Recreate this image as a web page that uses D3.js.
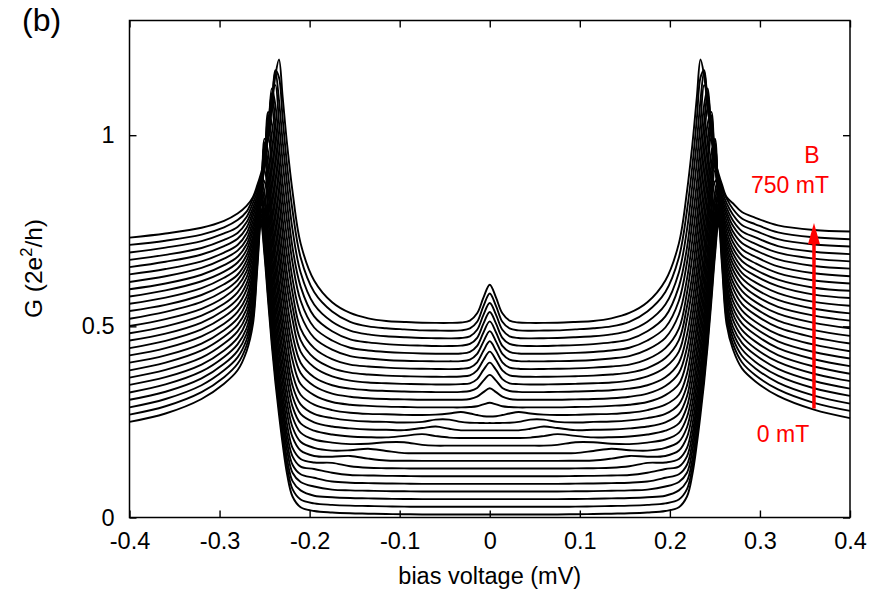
<!DOCTYPE html>
<html>
<head>
<meta charset="utf-8">
<script src="https://cdn.jsdelivr.net/npm/d3@7"></script>
<style>
  html, body { margin: 0; padding: 0; background: #fff; }
  svg { display: block; }
</style>
</head>
<body>
<script>
// ---------------- data ----------------
// bias voltage grid (mV)
const bias = [-0.40,-0.36,-0.32,-0.295,-0.28,-0.27,-0.263,-0.258,-0.254,-0.25,-0.246,-0.242,-0.238,-0.234,-0.23,-0.225,-0.219,-0.21,-0.195,-0.175,-0.155,-0.135,-0.115,-0.095,-0.075,-0.06,-0.045,-0.032,-0.022,-0.014,-0.007,0,
  0.007,0.014,0.022,0.032,0.045,0.06,0.075,0.095,0.115,0.135,0.155,0.175,0.195,0.21,0.219,0.225,0.23,0.234,0.238,0.242,0.246,0.25,0.254,0.258,0.263,0.27,0.28,0.295,0.32,0.36,0.40];

// magnetic field of each trace (mT) and vertical offset applied for clarity (2e^2/h)
const fields  = [0,30,60,90,120,150,180,210,240,270,300,330,360,390,420,450,480,510,540,570,600,630,660,690,720,750];
const offsets = [0,0.02,0.04,0.06,0.08,0.10,0.12,0.14,0.16,0.18,0.20,0.22,0.24,0.26,0.28,0.30,0.32,0.34,0.36,0.38,0.40,0.42,0.44,0.46,0.48,0.50];

// conductance traces G (2e^2/h), one per field
const g0   = [.250,.272,.310,.350,.385,.435,.505,.655,.772,.683,.564,.451,.353,.269,.193,.113,.055,.027,.017,.013,.011,.010,.009,.0085,.008,.008,.008,.008,.008,.008,.008,.008,
  .008,.008,.008,.008,.008,.008,.008,.0085,.009,.010,.011,.013,.017,.027,.055,.113,.193,.269,.353,.451,.564,.683,.772,.655,.505,.440,.390,.356,.318,.282,.260];
const g30  = [.249,.271,.308,.347,.382,.430,.500,.648,.764,.676,.558,.446,.349,.266,.191,.112,.054,.027,.017,.013,.011,.010,.009,.0085,.008,.008,.008,.008,.008,.008,.008,.008,
  .008,.008,.008,.008,.008,.008,.008,.0085,.009,.010,.011,.013,.017,.027,.054,.112,.191,.266,.349,.446,.558,.676,.764,.648,.500,.434,.386,.352,.315,.280,.259];
const g60  = [.248,.270,.306,.345,.379,.425,.495,.643,.757,.670,.553,.442,.346,.264,.190,.112,.055,.031,.017,.013,.011,.010,.009,.0085,.008,.008,.008,.008,.008,.008,.008,.008,
  .008,.008,.008,.008,.008,.008,.008,.0085,.009,.010,.011,.013,.017,.031,.055,.112,.190,.264,.346,.442,.553,.670,.757,.643,.495,.429,.383,.350,.313,.279,.258];
const g90  = [.248,.269,.304,.342,.376,.420,.490,.630,.750,.671,.556,.445,.349,.267,.193,.115,.057,.033,.021,.013,.011,.010,.009,.0085,.008,.008,.008,.008,.008,.008,.008,.008,
  .008,.008,.008,.008,.008,.008,.008,.0085,.009,.010,.011,.013,.021,.033,.057,.115,.193,.267,.349,.445,.556,.671,.750,.630,.490,.424,.380,.347,.311,.278,.258];
const g120 = [.247,.268,.302,.340,.373,.415,.487,.614,.747,.668,.557,.445,.350,.268,.197,.116,.058,.033,.024,.014,.011,.010,.009,.0085,.008,.008,.008,.008,.008,.008,.008,.008,
  .008,.008,.008,.008,.008,.008,.008,.0085,.009,.010,.011,.014,.024,.033,.058,.116,.197,.268,.350,.445,.557,.668,.747,.614,.487,.419,.377,.345,.309,.277,.257];
const g150 = [.247,.267,.300,.337,.370,.413,.484,.599,.745,.673,.560,.449,.355,.271,.199,.118,.060,.033,.027,.017,.011,.010,.009,.0085,.008,.008,.008,.008,.008,.008,.008,.008,
  .008,.008,.008,.008,.008,.008,.008,.0085,.009,.010,.011,.017,.027,.033,.060,.118,.199,.271,.355,.449,.560,.673,.745,.599,.484,.417,.374,.342,.307,.276,.257];
const g180 = [.246,.266,.298,.335,.367,.409,.479,.590,.737,.676,.565,.455,.359,.276,.204,.123,.062,.033,.024,.023,.014,.010,.009,.0085,.008,.008,.008,.008,.008,.008,.008,.008,
  .008,.008,.008,.008,.008,.008,.008,.0085,.009,.010,.014,.023,.024,.033,.062,.123,.204,.276,.359,.455,.565,.676,.737,.590,.479,.413,.371,.340,.305,.275,.256];
const g210 = [.245,.265,.297,.333,.364,.405,.472,.571,.733,.684,.577,.466,.368,.286,.212,.132,.070,.035,.021,.019,.021,.014,.009,.0085,.008,.008,.008,.008,.008,.008,.008,.008,
  .008,.008,.008,.008,.008,.008,.008,.0085,.009,.014,.021,.019,.021,.035,.070,.132,.212,.286,.368,.466,.577,.684,.733,.571,.472,.409,.368,.338,.303,.274,.256];
const g240 = [.245,.264,.295,.330,.361,.402,.468,.553,.728,.690,.586,.476,.378,.293,.220,.139,.076,.038,.022,.015,.016,.020,.014,.0085,.008,.008,.008,.008,.008,.008,.008,.008,
  .008,.008,.008,.008,.008,.008,.008,.0085,.014,.020,.016,.015,.022,.038,.076,.139,.220,.293,.378,.476,.586,.690,.728,.553,.468,.406,.365,.335,.301,.273,.256];
const g270 = [.244,.263,.294,.327,.358,.398,.461,.539,.705,.698,.602,.490,.391,.305,.231,.148,.083,.042,.024,.016,.012,.013,.017,.017,.010,.008,.008,.008,.008,.008,.008,.008,
  .008,.008,.008,.008,.008,.008,.010,.017,.017,.013,.012,.016,.024,.042,.083,.148,.231,.305,.391,.490,.602,.698,.705,.539,.461,.402,.362,.332,.299,.272,.255];
const g300 = [.243,.262,.292,.325,.355,.396,.455,.529,.677,.707,.615,.504,.403,.316,.241,.160,.090,.046,.027,.017,.012,.010,.0095,.0135,.018,.013,.009,.008,.008,.008,.008,.008,
  .008,.008,.008,.008,.009,.013,.018,.0135,.0095,.010,.012,.017,.027,.046,.090,.160,.241,.316,.403,.504,.615,.707,.677,.529,.455,.400,.359,.330,.297,.271,.255];
const g330 = [.243,.261,.290,.322,.352,.392,.449,.516,.630,.720,.633,.522,.419,.330,.255,.172,.097,.051,.029,.018,.013,.010,.0095,.0085,.014,.018,.012,.008,.008,.008,.008,.008,
  .008,.008,.008,.008,.012,.018,.014,.0085,.0095,.010,.013,.018,.029,.051,.097,.172,.255,.330,.419,.522,.633,.720,.630,.516,.449,.396,.356,.327,.295,.270,.255];
const g360 = [.242,.260,.288,.319,.349,.388,.444,.507,.604,.724,.647,.537,.432,.344,.265,.183,.105,.056,.031,.020,.014,.011,.010,.0085,.010,.016,.016,.010,.008,.0075,.007,.007,
  .007,.0075,.008,.010,.016,.016,.010,.0085,.010,.011,.014,.020,.031,.056,.105,.183,.265,.344,.432,.537,.647,.724,.604,.507,.444,.392,.353,.324,.293,.269,.255];
const g390 = [.241,.259,.286,.316,.346,.384,.438,.497,.585,.720,.661,.552,.451,.357,.278,.199,.116,.061,.035,.021,.014,.011,.010,.0085,.008,.009,.012,.016,.012,.008,.005,.004,
  .005,.008,.012,.016,.012,.009,.008,.0085,.010,.011,.014,.021,.035,.061,.116,.199,.278,.357,.451,.552,.661,.720,.585,.497,.438,.388,.350,.321,.291,.268,.255];
const g420 = [.240,.258,.284,.313,.341,.378,.430,.485,.552,.711,.675,.574,.473,.381,.297,.212,.132,.069,.040,.022,.015,.012,.010,.009,.008,.008,.008,.008,.009,.011,.016,.020,
  .016,.011,.009,.008,.008,.008,.008,.009,.010,.012,.015,.022,.040,.069,.132,.212,.297,.381,.473,.574,.675,.711,.552,.485,.430,.383,.346,.318,.289,.266,.254];
const g450 = [.240,.256,.282,.310,.335,.372,.423,.475,.539,.675,.693,.599,.494,.398,.314,.227,.144,.078,.044,.024,.016,.012,.010,.009,.008,.008,.008,.008,.010,.016,.028,.038,
  .028,.016,.010,.008,.008,.008,.008,.009,.010,.012,.016,.024,.044,.078,.144,.227,.314,.398,.494,.599,.693,.675,.539,.475,.423,.377,.340,.315,.287,.264,.254];
const g480 = [.239,.255,.280,.307,.331,.366,.415,.464,.521,.622,.710,.625,.518,.420,.332,.243,.158,.085,.047,.026,.017,.013,.011,.0095,.0085,.008,.008,.0085,.011,.019,.038,.053,
  .038,.019,.011,.0085,.008,.008,.0085,.0095,.011,.013,.017,.026,.047,.085,.158,.243,.332,.420,.518,.625,.710,.622,.521,.464,.415,.371,.335,.312,.285,.263,.254];
const g510 = [.238,.254,.278,.303,.327,.360,.409,.456,.508,.593,.712,.650,.544,.443,.355,.262,.178,.094,.053,.029,.018,.013,.011,.0095,.0085,.008,.008,.009,.011,.022,.046,.065,
  .046,.022,.011,.009,.008,.008,.0085,.0095,.011,.013,.018,.029,.053,.094,.178,.262,.355,.443,.544,.650,.712,.593,.508,.456,.409,.365,.331,.308,.282,.261,.253];
const g540 = [.237,.252,.275,.300,.322,.354,.402,.444,.491,.564,.701,.671,.575,.471,.380,.278,.192,.104,.057,.031,.019,.014,.011,.0095,.0085,.008,.008,.009,.012,.025,.052,.074,
  .052,.025,.012,.009,.008,.008,.0085,.0095,.011,.014,.019,.031,.057,.104,.192,.278,.380,.471,.575,.671,.701,.564,.491,.444,.402,.360,.326,.305,.279,.260,.252];
const g570 = [.236,.251,.273,.297,.318,.348,.395,.432,.481,.545,.653,.693,.603,.497,.402,.303,.208,.114,.063,.034,.020,.015,.012,.010,.009,.0085,.008,.009,.012,.026,.056,.081,
  .056,.026,.012,.009,.008,.0085,.009,.010,.012,.015,.020,.034,.063,.114,.208,.303,.402,.497,.603,.693,.653,.545,.481,.432,.395,.354,.322,.302,.277,.259,.251];
const g600 = [.236,.250,.270,.293,.313,.343,.388,.422,.469,.529,.616,.709,.632,.525,.430,.327,.224,.131,.070,.039,.022,.016,.012,.010,.009,.0085,.0085,.009,.013,.028,.060,.0875,
  .060,.028,.013,.009,.0085,.0085,.009,.010,.012,.016,.022,.039,.070,.131,.224,.327,.430,.525,.632,.709,.616,.529,.469,.422,.388,.348,.318,.299,.275,.258,.251];
const g630 = [.235,.249,.268,.290,.309,.338,.379,.412,.456,.513,.585,.702,.658,.557,.457,.354,.247,.147,.077,.043,.024,.017,.013,.0105,.009,.0085,.0085,.009,.0135,.029,.064,.093,
  .064,.029,.0135,.009,.0085,.0085,.009,.0105,.013,.017,.024,.043,.077,.147,.247,.354,.457,.557,.658,.702,.585,.513,.456,.412,.379,.343,.314,.296,.273,.257,.250];
const g660 = [.234,.247,.265,.286,.304,.332,.370,.402,.439,.495,.562,.663,.691,.592,.491,.381,.266,.164,.086,.047,.026,.018,.0135,.011,.0095,.0085,.0085,.0095,.014,.030,.067,.0975,
  .067,.030,.014,.0095,.0085,.0085,.0095,.011,.0135,.018,.026,.047,.086,.164,.266,.381,.491,.592,.691,.663,.562,.495,.439,.402,.370,.337,.309,.293,.270,.255,.249];
const g690 = [.233,.246,.263,.283,.300,.326,.362,.392,.423,.478,.541,.624,.707,.631,.525,.411,.293,.181,.097,.052,.029,.019,.014,.0115,.0095,.009,.0085,.0095,.014,.031,.070,.101,
  .070,.031,.014,.0095,.0085,.009,.0095,.0115,.014,.019,.029,.052,.097,.181,.293,.411,.525,.631,.707,.624,.541,.478,.423,.392,.362,.332,.305,.290,.268,.254,.249];
const g720 = [.233,.244,.260,.279,.298,.320,.354,.381,.412,.459,.523,.593,.690,.671,.565,.441,.323,.200,.110,.059,.032,.020,.015,.012,.0095,.009,.0085,.0095,.0145,.032,.073,.106,
  .073,.032,.0145,.0095,.0085,.009,.0095,.012,.015,.020,.032,.059,.110,.200,.323,.441,.565,.671,.690,.593,.523,.459,.412,.381,.354,.327,.302,.287,.266,.253,.248];
const g750 = [.232,.243,.258,.276,.295,.315,.338,.370,.400,.437,.500,.571,.656,.698,.601,.476,.353,.217,.120,.063,.035,.021,.014,.0115,.0095,.009,.009,.010,.015,.034,.075,.109,
  .075,.034,.015,.010,.009,.009,.0095,.0115,.014,.021,.035,.063,.120,.217,.353,.476,.601,.698,.656,.571,.500,.437,.400,.370,.338,.322,.299,.284,.264,.252,.248];

const traces = [g0,g30,g60,g90,g120,g150,g180,g210,g240,g270,g300,g330,g360,g390,g420,g450,g480,g510,g540,g570,g600,g630,g660,g690,g720,g750];

const xTicks = [-0.4,-0.3,-0.2,-0.1,0,0.1,0.2,0.3,0.4];
const yTicks = [0,0.5,1];

// ---------------- drawing ----------------
const W = 886, H = 593;
const svg = d3.select("body").append("svg").attr("width", W).attr("height", H);
const FONT = "'Liberation Sans', Arial, Helvetica, sans-serif";
const FS = 23.5;

const x = d3.scaleLinear().domain([-0.4, 0.4]).range([129.5, 850]);
const y = d3.scaleLinear().domain([0, 1.3]).range([517.5, 20.5]);

const line = d3.line()
  .x((d, j) => x(bias[j]))
  .y(d => y(d))
  .curve(d3.curveCatmullRom.alpha(0.5));

const gTr = svg.append("g").attr("fill", "none").attr("stroke", "#000")
  .attr("stroke-width", 1.9).attr("stroke-linejoin", "round");
traces.forEach((tr, i) => {
  gTr.append("path").attr("d", line(tr.map(v => v + offsets[i])));
});

// sanity check on lengths
const bad = traces.map((t, i) => t.length !== bias.length ? fields[i] : null).filter(v => v !== null);
if (bad.length) svg.append("text").attr("x", 300).attr("y", 15).attr("fill", "blue").text("len mismatch: " + bad.join(","));

// axes
function styleAxis(g) {
  g.select(".domain").remove();
  g.selectAll(".tick line").attr("stroke", "#000").attr("stroke-width", 1.4);
  g.selectAll(".tick text").attr("fill", "#000").attr("font-size", FS).attr("font-family", FONT);
}
svg.append("g").attr("transform", `translate(0,${y(0)})`)
  .call(d3.axisBottom(x).tickValues(xTicks).tickSizeInner(-7).tickSizeOuter(0).tickPadding(15).tickFormat(d => String(d)))
  .call(styleAxis);
svg.append("g").attr("transform", `translate(0,${y(1.3)})`)
  .call(d3.axisTop(x).tickValues(xTicks).tickSizeInner(-7).tickSizeOuter(0).tickFormat(""))
  .call(styleAxis);
svg.append("g").attr("transform", `translate(${x(-0.4)},0)`)
  .call(d3.axisLeft(y).tickValues(yTicks).tickSizeInner(-7).tickSizeOuter(0).tickPadding(15).tickFormat(d => String(d)))
  .call(styleAxis);
svg.append("g").attr("transform", `translate(${x(0.4)},0)`)
  .call(d3.axisRight(y).tickValues(yTicks).tickSizeInner(-7).tickSizeOuter(0).tickFormat(""))
  .call(styleAxis);

svg.append("rect")
  .attr("x", x(-0.4)).attr("y", y(1.3))
  .attr("width", x(0.4) - x(-0.4)).attr("height", y(0) - y(1.3))
  .attr("fill", "none").attr("stroke", "#000").attr("stroke-width", 1.5);

// axis titles
svg.append("text").attr("x", (x(-0.4) + x(0.4)) / 2).attr("y", 584)
  .attr("text-anchor", "middle").attr("font-family", FONT).attr("font-size", FS)
  .text("bias voltage (mV)");

const yt = svg.append("text").attr("transform", `translate(42,${268.5}) rotate(-90)`)
  .attr("text-anchor", "middle").attr("font-family", FONT).attr("font-size", 24.5);
yt.append("tspan").text("G (2e");
yt.append("tspan").attr("dy", -10).attr("font-size", 16.5).text("2");
yt.append("tspan").attr("dy", 10).text("/h)");

// panel label
svg.append("text").attr("x", 22).attr("y", 31).attr("font-family", FONT).attr("font-size", 32).text("(b)");

// field annotation
const red = "#ff0000";
const ax = x(0.36);
svg.append("line").attr("x1", ax).attr("x2", ax).attr("y1", y(0.285)).attr("y2", y(0.72))
  .attr("stroke", red).attr("stroke-width", 3.5);
svg.append("path")
  .attr("d", `M${ax},${y(0.77)} L${ax - 6},${y(0.715)} L${ax + 6},${y(0.715)} Z`)
  .attr("fill", red);
svg.append("text").attr("x", 812).attr("y", 163).attr("text-anchor", "middle")
  .attr("font-family", FONT).attr("font-size", 23).attr("fill", red).text("B");
svg.append("text").attr("x", 790).attr("y", 193).attr("text-anchor", "middle")
  .attr("font-family", FONT).attr("font-size", 23).attr("fill", red).text("750 mT");
svg.append("text").attr("x", 783).attr("y", 442).attr("text-anchor", "middle")
  .attr("font-family", FONT).attr("font-size", 23).attr("fill", red).text("0 mT");
</script>
</body>
</html>
